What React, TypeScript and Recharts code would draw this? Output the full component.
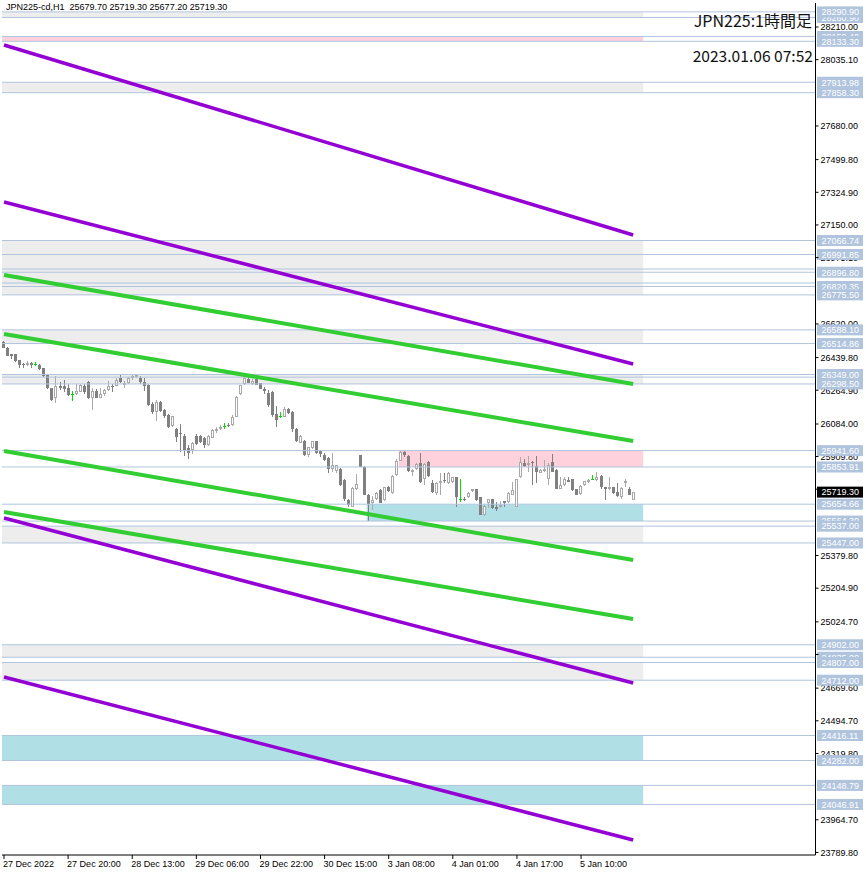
import React from 'react';
import { ComposedChart, Bar, XAxis, YAxis, ReferenceLine, ReferenceArea } from 'recharts';

const W = 866;
const H = 876;
const SLOTS = 203; // bars that fit in the plot, the rest is empty right shift
const Y_MIN = 23776.1;
const Y_MAX = 28338.5;

// JPN225-cd H1 candles, 27 Dec 2022 .. 6 Jan 2023
const opens = [
  26521, 26493, 26457, 26457, 26425, 26404, 26400, 26411, 26404, 26400,
  26382, 26346, 26275, 26222, 26289, 26289, 26275, 26243, 26243, 26257,
  26289, 26307, 26222, 26261, 26225, 26243, 26268, 26289, 26289, 26329,
  26293, 26304, 26329, 26336, 26332, 26311, 26293, 26189, 26150, 26200,
  26157, 26132, 26075, 26057, 26034, 26022, 25954, 25943, 26022, 26018,
  26007, 25972, 26011, 26045, 26055, 26073, 26080, 26077, 26123, 26245,
  26298, 26327, 26298, 26327, 26302, 26273, 26252, 26255, 26138, 26127,
  26123, 26163, 26148, 26059, 25984, 25995, 25916, 25955, 25991, 25941,
  25920, 25902, 25845, 25831, 25845, 25784, 25677, 25641, 25738, 25916,
  25855, 25706, 25659, 25681, 25731, 25677, 25748, 25713, 25809, 25888,
  25934, 25913, 25827, 25841, 25873, 25788, 25881, 25766, 25713, 25766,
  25784, 25766, 25773, 25798, 25681, 25684, 25691, 25723, 25734, 25691,
  25599, 25659, 25681, 25641, 25638, 25670, 25666, 25706, 25641, 25798,
  25873, 25863, 25881, 25859, 25823, 25831, 25788, 25881, 25838, 25738,
  25756, 25784, 25788, 25734, 25709, 25756, 25773, 25788, 25784, 25806,
  25745, 25738, 25745, 25720, 25695, 25766, 25734, 25679.7,
];
const highs = [
  26529, 26496, 26458, 26461, 26429, 26411, 26421, 26414, 26414, 26407,
  26386, 26350, 26279, 26339, 26311, 26318, 26297, 26261, 26297, 26297,
  26297, 26314, 26279, 26272, 26279, 26272, 26314, 26300, 26329, 26346,
  26314, 26336, 26346, 26350, 26339, 26329, 26297, 26204, 26211, 26207,
  26164, 26136, 26129, 26061, 26082, 26032, 25972, 25986, 26029, 26025,
  26014, 26025, 26057, 26066, 26077, 26091, 26091, 26130, 26234, 26295,
  26341, 26334, 26323, 26334, 26305, 26280, 26266, 26259, 26180, 26148,
  26173, 26170, 26152, 26063, 26023, 25998, 25963, 25995, 25995, 25945,
  25927, 25906, 25927, 25866, 25848, 25788, 25684, 25748, 25816, 25920,
  25859, 25709, 25699, 25720, 25734, 25748, 25752, 25809, 25898, 25941.6,
  25938, 25916, 25845, 25877, 25931, 25873, 25884, 25784, 25773, 25824,
  25820, 25827, 25802, 25802, 25788, 25695, 25720, 25738, 25738, 25695,
  25648, 25684, 25684, 25666, 25674, 25674, 25720, 25773, 25791, 25906,
  25898, 25913, 25884, 25913, 25845, 25891, 25873, 25923, 25841, 25798,
  25798, 25802, 25791, 25738, 25756, 25781, 25788, 25813, 25827, 25809,
  25748, 25802, 25748, 25770, 25745, 25788, 25745, 25719.3,
];
const lows = [
  26489, 26447, 26432, 26418, 26382, 26382, 26396, 26386, 26393, 26371,
  26336, 26271, 26209, 26197, 26264, 26257, 26232, 26207, 26241, 26254,
  26243, 26218, 26161, 26222, 26222, 26236, 26261, 26257, 26286, 26304,
  26275, 26300, 26322, 26332, 26300, 26261, 26182, 26139, 26100, 26147,
  26118, 26064, 26068, 25986, 25936, 25914, 25897, 25925, 25972, 25982,
  25957, 25968, 26007, 26038, 26052, 26059, 26070, 26073, 26120, 26238,
  26291, 26302, 26295, 26291, 26270, 26245, 26177, 26123, 26066, 26116,
  26120, 26138, 26041, 25988, 25980, 25913, 25909, 25952, 25923, 25909,
  25888, 25820, 25827, 25820, 25752, 25673, 25638, 25638, 25731, 25852,
  25702, 25564.3, 25624, 25677, 25659, 25673, 25720, 25709, 25806, 25884,
  25909, 25827, 25806, 25838, 25770, 25756, 25802, 25716, 25706, 25706,
  25770, 25763, 25770, 25638, 25666, 25674, 25688, 25720, 25674, 25595,
  25591, 25634, 25631, 25620, 25634, 25641, 25663, 25702, 25638, 25795,
  25856, 25827, 25756, 25770, 25820, 25827, 25759, 25825, 25734, 25734,
  25752, 25772, 25727, 25702, 25706, 25752, 25770, 25784, 25781, 25738,
  25677, 25731, 25709, 25695, 25684, 25745, 25702, 25677.2,
];
const closes = [
  26493, 26450, 26450, 26421, 26400, 26402, 26411, 26400, 26404, 26379,
  26343, 26275, 26213, 26289, 26279, 26272, 26239, 26243, 26261, 26293,
  26254, 26222, 26261, 26225, 26247, 26264, 26289, 26282, 26318, 26307,
  26304, 26329, 26339, 26346, 26311, 26286, 26186, 26147, 26204, 26154,
  26125, 26070, 26125, 26014, 26030, 25943, 25929, 25982, 25979, 25989,
  25972, 26022, 26050, 26059, 26070, 26073, 26073, 26123, 26230, 26291,
  26330, 26305, 26316, 26295, 26273, 26262, 26184, 26130, 26105, 26127,
  26163, 26141, 26059, 25991, 26020, 25916, 25959, 25991, 25927, 25923,
  25891, 25845, 25863, 25863, 25759, 25681, 25649, 25741, 25763, 25855,
  25706, 25654.66, 25677, 25716, 25663, 25745, 25723, 25806, 25888, 25934,
  25916, 25831, 25838, 25870, 25773, 25870, 25806, 25720, 25770, 25781,
  25777, 25823, 25798, 25691, 25681, 25677, 25716, 25734, 25677, 25599,
  25645, 25681, 25634, 25627, 25652, 25659, 25713, 25731, 25788, 25881,
  25859, 25873, 25873, 25827, 25838, 25845, 25866, 25827, 25738, 25756,
  25791, 25773, 25731, 25706, 25752, 25777, 25784, 25788, 25802, 25745,
  25738, 25748, 25713, 25699, 25741, 25781, 25706, 25719.3,
];

const xTickIndex = [0, 16, 32, 48, 64, 80, 96, 112, 128, 144];
const xTickLabels = [
  '27 Dec 2022', '27 Dec 20:00', '28 Dec 13:00', '29 Dec 06:00', '29 Dec 22:00',
  '30 Dec 15:00', '3 Jan 08:00', '4 Jan 01:00', '4 Jan 17:00', '5 Jan 10:00',
];

const yTicks = [
  28210.0, 28035.1, 27680.0, 27499.8, 27324.9, 27150.0, 26975.1, 26620.0, 26439.8,
  26264.9, 26084.0, 25909.8, 25734.9, 25379.8, 25204.9, 25024.7, 24849.8, 24669.6,
  24494.7, 24319.8, 23964.7, 23789.8,
];

// horizontal price levels, in drawing order
const levels = [
  28260.9, 28290.9, 28159.4, 28133.3, 27913.98, 27858.3, 27066.74, 26991.85, 26896.8,
  26820.35, 26775.5, 26588.1, 26514.86, 26298.5, 26349.0, 25941.6, 25853.91, 25654.66,
  25564.3, 25537.0, 25447.0, 24902.0, 24835.0, 24807.0, 24712.0, 24416.11, 24282.0,
  24148.79, 24046.91,
];
const minorLevels = [26914, 26839, 26335];
const lastPrice = 25719.3;

// zones: top / bottom / first bar (null = from the left edge) / kind
const zoneHigh = [28290.9, 28159.4, 27913.98, 27066.74, 26588.1, 26349.0, 25941.6, 25654.66, 25537.0, 24902.0, 24807.0, 24416.11, 24148.79];
const zoneLow = [28260.9, 28133.3, 27858.3, 26775.5, 26514.86, 26298.5, 25853.91, 25564.3, 25447.0, 24835.0, 24712.0, 24282.0, 24046.91];
const zoneFrom: (number | null)[] = [null, null, null, null, null, null, 99, 91, null, null, null, null, null];
const zoneKind = ['range', 'resist', 'range', 'range', 'range', 'range', 'resist', 'support', 'range', 'range', 'range', 'support', 'support'];
const ZONE_END = 159;

// channel lines: price at the first bar and at the last bar
const trendStart = [28113.6, 27272.9, 26882.0, 26566.0, 25939.5, 25612.8, 25580.7, 24729.3];
const trendEnd = [27096.2, 26405.4, 26298.3, 25993.0, 25355.8, 25039.8, 24697.1, 23856.4];
const trendKind = ['outer', 'outer', 'inner', 'inner', 'inner', 'inner', 'outer', 'outer'];

const zoneColors: Record<string, string> = { range: '#ededed', resist: '#ffd1dc', support: '#b0e0e6' };
const trendColors: Record<string, string> = { outer: '#9400d3', inner: '#32cd32' };
const LEVEL = '#b0c4de';
const BEAR = '#808080';
const BULL = '#a9a9a9';
const DOJI = '#00dd00';
const FONT = '"Liberation Sans", Arial, sans-serif';

const lastBar = opens.length - 1;
const rows = Array.from({ length: SLOTS }, (_, i) =>
  i < opens.length
    ? { i, o: opens[i], h: highs[i], l: lows[i], c: closes[i], range: [lows[i], highs[i]] }
    : { i, range: null }
);

const CandleShape = (props: any) => {
  const { x, y, width, height } = props;
  const d = props.payload ?? props;
  if (d == null || d.o == null || y == null || height == null) return null;
  const { o, h, l, c } = d;
  const top = Math.min(y, y + height);
  const span = Math.abs(height);
  const k = h > l ? span / (h - l) : 0;
  const py = (v: number) => top + (h - v) * k;
  const cx = Math.floor(x + width / 2);
  const wx = cx + 0.5;
  const wTop = Math.round(top);
  const wBot = Math.round(top + span);

  if (o === c) {
    const yy = Math.round(py(o)) + 0.5;
    return (
      <g shapeRendering="crispEdges">
        <line x1={wx} x2={wx} y1={wTop} y2={wBot} stroke={DOJI} />
        <line x1={cx - 1} x2={cx + 2} y1={yy} y2={yy} stroke={DOJI} />
      </g>
    );
  }
  const bTop = Math.round(py(Math.max(o, c)));
  const bBot = Math.max(Math.round(py(Math.min(o, c))), bTop + 1);
  if (c < o) {
    return (
      <g shapeRendering="crispEdges">
        <line x1={wx} x2={wx} y1={wTop} y2={wBot} stroke={BEAR} />
        <rect x={cx - 1} y={bTop} width={3} height={bBot - bTop} fill={BEAR} />
      </g>
    );
  }
  return (
    <g shapeRendering="crispEdges">
      <line x1={wx} x2={wx} y1={wTop} y2={wBot} stroke={BULL} />
      <rect x={cx - 1} y={bTop} width={3} height={bBot - bTop} fill={BULL} />
      {bBot - bTop > 2 && <rect x={cx} y={bTop + 1} width={1} height={bBot - bTop - 2} fill="#fff" />}
    </g>
  );
};

// price tag in the right scale (object levels and last price)
const PriceTag = (props: any) => {
  const { viewBox, text, bg } = props;
  if (!viewBox) return null;
  const x = viewBox.x + viewBox.width + 1.5;
  const y = viewBox.y;
  return (
    <g>
      <rect x={x} y={y - 5.5} width={46} height={11} fill={bg} />
      <text x={x + 4.5} y={y + 3.3} fontSize={9} fontFamily={FONT} fill="#fff">
        {text}
      </text>
    </g>
  );
};

// grid price text, drawn as a label so the tags can cover it
const ScaleText = (props: any) => {
  const { viewBox, text } = props;
  if (!viewBox) return null;
  return (
    <text x={viewBox.x + viewBox.width + 5} y={viewBox.y + 3.3} fontSize={9} fontFamily={FONT} fill="#000">
      {text}
    </text>
  );
};

const NoTick = () => <g />;

const XTick = (props: any) => {
  const { x, y, payload } = props;
  const idx = xTickIndex.indexOf(payload.value);
  return (
    <text x={x - 1} y={y + 6} fontSize={9} fontFamily={FONT} fill="#000">
      {xTickLabels[idx]}
    </text>
  );
};

export default function App() {
  return (
    <div style={{ position: 'absolute', left: 0, top: 0, width: W, height: H, background: '#fff' }}>
      <ComposedChart width={W} height={H} data={rows} margin={{ top: 3, right: 0, bottom: 3, left: 2 }}>
        <XAxis
          dataKey="i"
          type="category"
          ticks={xTickIndex}
          interval={0}
          height={18}
          axisLine={{ stroke: '#000' }}
          tickLine={{ stroke: '#000' }}
          tickSize={4}
          tick={<XTick />}
        />
        <YAxis yAxisId="frame" orientation="left" type="number" domain={[0, 1]} width={0} tick={false} tickLine={false} axisLine={{ stroke: '#000' }} />
        <YAxis
          yAxisId="p"
          orientation="right"
          type="number"
          domain={[Y_MIN, Y_MAX]}
          allowDataOverflow
          ticks={yTicks}
          interval={0}
          width={50.5}
          axisLine={{ stroke: '#000' }}
          tickLine={{ stroke: '#000' }}
          tickSize={3}
          tickMargin={2}
          tick={<NoTick />}
        />

        {zoneHigh.map((top, k) => (
          <ReferenceArea
            key={`z${k}`}
            yAxisId="p"
            y1={zoneLow[k]}
            y2={top}
            {...(zoneFrom[k] != null ? { x1: zoneFrom[k] as number } : {})}
            x2={ZONE_END}
            fill={zoneColors[zoneKind[k]]}
            fillOpacity={1}
            stroke="none"
          />
        ))}

        {minorLevels.map((v) => (
          <ReferenceLine key={`m${v}`} yAxisId="p" y={v} stroke={LEVEL} strokeWidth={1} />
        ))}

        <Bar yAxisId="p" dataKey="range" shape={<CandleShape />} isAnimationActive={false} />

        {yTicks.map((t) => (
          <ReferenceLine key={`s${t}`} yAxisId="p" y={t} stroke="none" strokeOpacity={0} label={<ScaleText text={t.toFixed(2)} />} />
        ))}
        {levels.map((v) => (
          <ReferenceLine
            key={`l${v}`}
            yAxisId="p"
            y={v}
            stroke={LEVEL}
            strokeWidth={1}
            label={<PriceTag text={v.toFixed(2)} bg={LEVEL} />}
          />
        ))}

        {trendStart.map((p, k) => (
          <ReferenceLine
            key={`t${k}`}
            yAxisId="p"
            segment={[
              { x: 0, y: p },
              { x: lastBar, y: trendEnd[k] },
            ]}
            stroke={trendColors[trendKind[k]]}
            strokeWidth={trendKind[k] === 'inner' ? 4 : 3.5}
          />
        ))}

        <ReferenceLine
          yAxisId="p"
          y={lastPrice}
          stroke="none"
          strokeOpacity={0}
          label={<PriceTag text={lastPrice.toFixed(2)} bg="#000" />}
        />
      </ComposedChart>

      <div style={{ position: 'absolute', left: 6, top: 2, fontFamily: FONT, fontSize: 9, lineHeight: '11px', color: '#000', whiteSpace: 'pre' }}>
        JPN225-cd,H1  25679.70 25719.30 25677.20 25719.30
      </div>
      <div style={{ position: 'absolute', right: 54, top: 9, fontFamily: '"Noto Sans CJK JP", "Noto Sans", sans-serif', fontSize: 16, lineHeight: '22px', color: '#111' }}>
        JPN225:1時間足
      </div>
      <div style={{ position: 'absolute', right: 53, top: 44, fontFamily: '"Noto Sans CJK JP", "Noto Sans", sans-serif', fontSize: 15.6, lineHeight: '22px', color: '#111' }}>
        2023.01.06 07:52
      </div>
    </div>
  );
}
